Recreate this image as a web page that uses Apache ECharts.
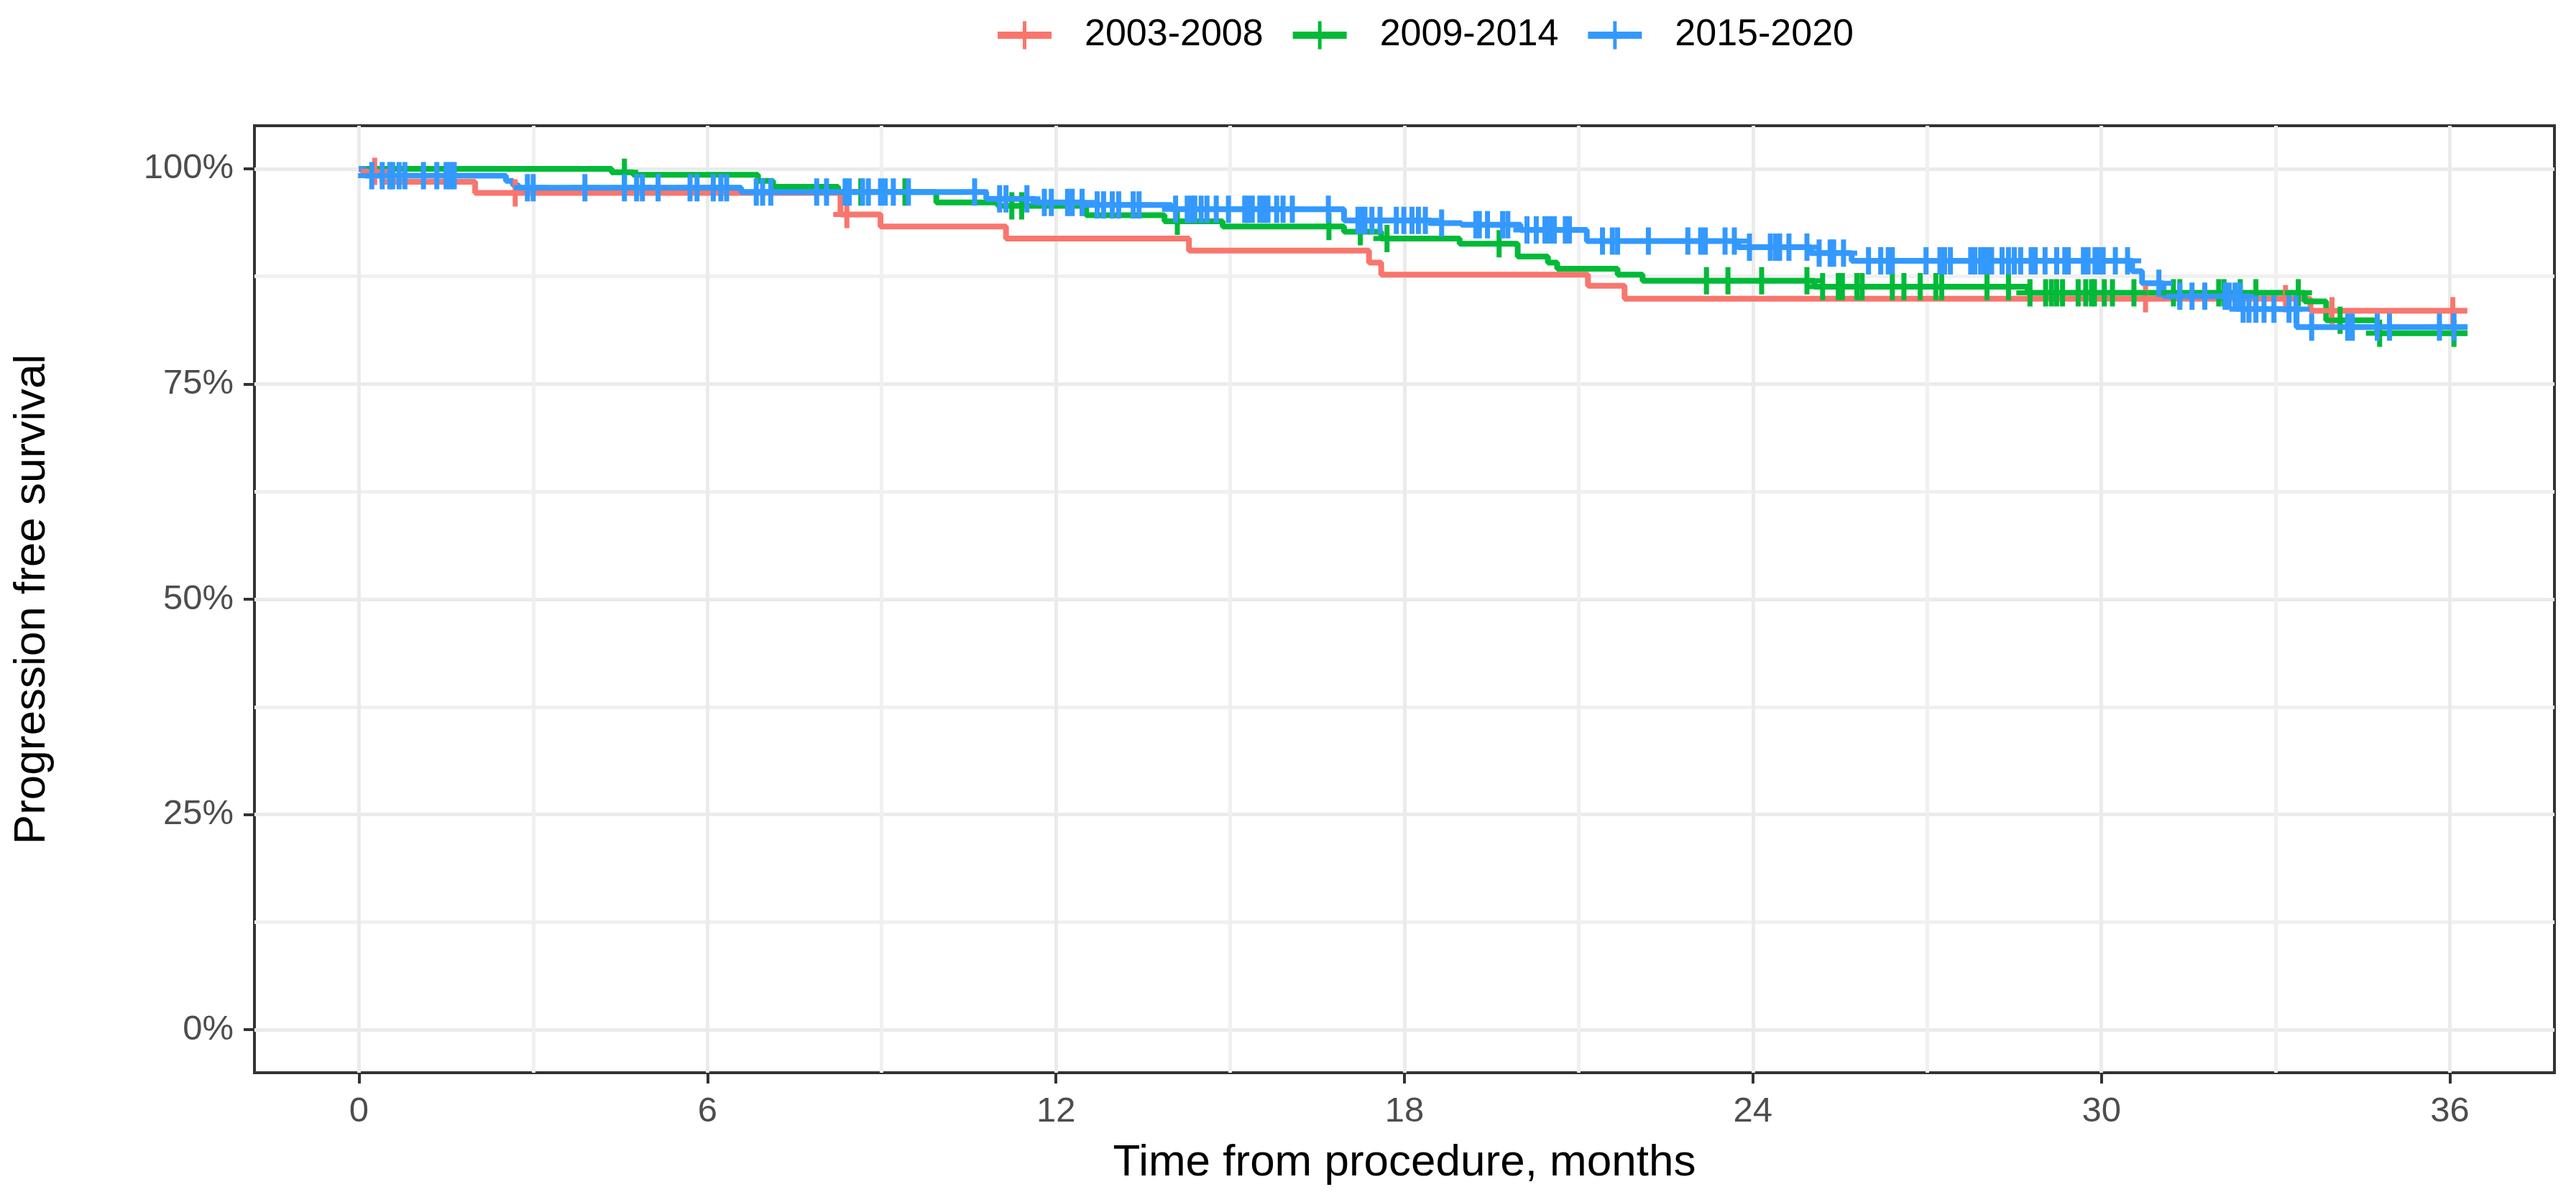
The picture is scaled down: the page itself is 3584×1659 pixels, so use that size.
<!DOCTYPE html>
<html><head><meta charset="utf-8">
<script src="https://cdn.jsdelivr.net/npm/echarts@6/dist/echarts.min.js"></script>
<style>html,body{margin:0;padding:0;background:#fff}#c{width:3584px;height:1659px}</style>
</head><body><div id="c"></div>
<script>
// ---- data ----
const seriesNames = ['2003-2008', '2009-2014', '2015-2020'];

const redTime = [0, 0.05, 0.4, 2.0, 8.29, 8.98, 11.14, 14.29, 17.39, 17.6, 21.16, 21.79, 33.6, 36.3];
const redSurv = [1.0, 0.997, 0.985, 0.972, 0.947, 0.933, 0.919, 0.905, 0.891, 0.877, 0.864, 0.849, 0.835, 0.835];
const redCensor = [0.27, 2.69, 8.4, 30.76, 33.17, 33.97, 36.05];

const greenTime = [0, 4.35, 4.72, 6.87, 7.13, 8.25, 9.94, 11.0, 12.52, 13.87, 14.87, 16.96, 17.6, 18.95, 19.95, 20.47, 20.63, 21.67, 22.1, 25.06, 28.73, 33.5, 33.87, 34.75, 36.3];
const greenSurv = [1.0, 0.996, 0.993, 0.986, 0.979, 0.973, 0.961, 0.957, 0.946, 0.939, 0.933, 0.927, 0.919, 0.913, 0.898, 0.891, 0.884, 0.877, 0.870, 0.863, 0.856, 0.846, 0.824, 0.809, 0.809];
const greenCensor = [4.57, 8.64, 9.4, 11.24, 11.41, 14.09, 16.7, 17.24, 17.7, 19.63, 23.2, 23.57, 24.15, 24.93, 25.2, 25.47, 25.54, 25.79, 25.88, 26.4, 26.6, 26.88, 27.15, 27.25, 28.03, 28.4, 28.77, 29.04, 29.14, 29.23, 29.33, 29.6, 29.73, 29.83, 29.88, 30.05, 30.19, 30.56, 31.24, 31.35, 32.02, 32.11, 32.39, 32.66, 33.39, 34.11, 34.79, 36.07];

const blueTime = [0, 0.11, 2.53, 2.65, 2.75, 6.58, 10.8, 11.64, 12.5, 13.99, 16.96, 18.45, 18.98, 20.0, 21.14, 23.75, 25.0, 25.7, 30.53, 30.7, 31.07, 32.42, 33.36, 36.3];
const blueSurv = [1.0, 0.992, 0.986, 0.981, 0.978, 0.973, 0.965, 0.961, 0.958, 0.953, 0.940, 0.937, 0.935, 0.929, 0.916, 0.909, 0.902, 0.893, 0.881, 0.867, 0.852, 0.837, 0.816, 0.816];
const blueCensor = [0.22, 0.4, 0.53, 0.58, 0.69, 0.79, 1.11, 1.34, 1.5, 1.57, 1.64, 2.9, 3.0, 3.89, 4.57, 4.78, 4.88, 5.15, 5.7, 5.82, 6.1, 6.23, 6.33, 6.84, 6.95, 7.09, 7.88, 8.05, 8.37, 8.44, 8.67, 8.77, 8.98, 9.06, 9.2, 9.46, 10.6, 11.03, 11.14, 11.5, 11.8, 11.92, 12.2, 12.28, 12.45, 12.71, 12.82, 12.97, 13.08, 13.33, 13.43, 14.06, 14.26, 14.34, 14.39, 14.5, 14.6, 14.76, 14.97, 15.25, 15.3, 15.38, 15.51, 15.58, 15.65, 15.8, 15.91, 16.07, 16.69, 17.2, 17.27, 17.32, 17.44, 17.58, 17.86, 17.99, 18.13, 18.24, 18.36, 18.64, 19.23, 19.29, 19.43, 19.69, 19.78, 20.11, 20.27, 20.42, 20.5, 20.58, 20.77, 20.84, 21.41, 21.58, 21.67, 22.2, 22.88, 23.1, 23.18, 23.52, 23.68, 23.94, 24.3, 24.39, 24.46, 24.62, 24.93, 25.14, 25.33, 25.39, 25.56, 25.99, 26.2, 26.33, 26.4, 26.98, 27.22, 27.3, 27.4, 27.75, 27.82, 27.92, 27.99, 28.06, 28.11, 28.29, 28.4, 28.5, 28.61, 28.79, 28.86, 29.03, 29.23, 29.37, 29.43, 29.69, 29.77, 29.89, 29.96, 30.03, 30.24, 30.45, 30.99, 31.35, 31.56, 31.78, 32.13, 32.2, 32.3, 32.39, 32.44, 32.54, 32.66, 32.8, 32.97, 33.23, 33.35, 33.62, 34.24, 34.32, 34.75, 34.96, 35.82, 36.07];

const xMajorTicks = [0, 6, 12, 18, 24, 30, 36];
const xMinorTicks = [3, 9, 15, 21, 27, 33];
const yMajorTicks = [0, 0.25, 0.5, 0.75, 1];
const yMinorTicks = [0.125, 0.375, 0.625, 0.875];

// ---- helpers ----
const colors = ['#F8766D', '#00BA38', '#3399FF'];
const FONT = '"Liberation Sans", Arial, Helvetica, sans-serif';
function survAt(times, surv, t) {
  let s = surv[0];
  for (let i = 0; i < times.length; i++) { if (times[i] <= t) s = surv[i]; else break; }
  return s;
}
function stepData(times, surv) { return times.map((t, i) => [t, surv[i]]); }
function censorData(times, surv, cens) { return cens.map(t => [t, survAt(times, surv, t)]); }

const groups = [
  [redTime, redSurv, redCensor],
  [greenTime, greenSurv, greenCensor],
  [blueTime, blueSurv, blueCensor]
];

const plusPath = 'path://M15.5,0H22.5V38H15.5Z M0,15.5H38V22.5H0Z';
const legendIcon = 'path://M0,14.5H75V24.5H0Z M35,0H40V39H35Z';

const series = [];
groups.forEach((g, i) => {
  series.push({
    name: seriesNames[i], type: 'line', step: 'end',
    xAxisIndex: 0, yAxisIndex: 0,
    data: stepData(g[0], g[1]),
    showSymbol: false, symbol: 'none',
    lineStyle: { color: colors[i], width: 8 },
    itemStyle: { color: colors[i] },
    z: 3 + i, animation: false
  });
});
groups.forEach((g, i) => {
  series.push({
    name: seriesNames[i], type: 'scatter',
    xAxisIndex: 0, yAxisIndex: 0,
    data: censorData(g[0], g[1], g[2]),
    symbol: plusPath, symbolSize: [38, 38],
    itemStyle: { color: colors[i], opacity: 1 },
    z: 6 + i, animation: false, silent: true
  });
});

const axisTickStyle = { color: '#333333', width: 4 };
const option = {
  animation: false,
  backgroundColor: '#ffffff',
  textStyle: { fontFamily: FONT },
  legend: {
    top: 18, left: 1383,
    itemWidth: 75, itemHeight: 39, itemGap: 41,
    symbolKeepAspect: false,
    selectedMode: false,
    textStyle: { fontSize: 52, color: '#000000', fontFamily: FONT, padding: [0, 0, 0, 41] },
    data: seriesNames.map(n => ({ name: n, icon: legendIcon }))
  },
  grid: {
    left: 354, right: 30, top: 175, bottom: 166,
    show: true, borderColor: '#333333', borderWidth: 4, backgroundColor: '#ffffff',
    containLabel: false
  },
  xAxis: [{
    type: 'value', min: -1.8, max: 37.8, position: 'bottom',
    name: 'Time from procedure, months', nameLocation: 'middle', nameGap: 95,
    nameTextStyle: { fontSize: 62, color: '#000000', fontFamily: FONT },
    axisLine: { show: false, onZero: false },
    axisTick: { show: true, length: 15, customValues: xMajorTicks, lineStyle: axisTickStyle },
    axisLabel: { customValues: xMajorTicks, fontSize: 49, color: '#4D4D4D', margin: 30, fontFamily: FONT },
    splitLine: { show: true, lineStyle: { color: '#EBEBEB', width: 5 } }
  }, {
    type: 'value', min: -1.8, max: 37.8, position: 'bottom',
    axisLine: { show: false, onZero: false },
    axisTick: { show: false, customValues: xMinorTicks },
    axisLabel: { show: false, customValues: xMinorTicks },
    splitLine: { show: true, lineStyle: { color: '#F0F0F0', width: 5 } }
  }],
  yAxis: [{
    type: 'value', min: -0.05, max: 1.05, position: 'left',
    name: 'Progression free survival', nameLocation: 'middle', nameGap: 278,
    nameTextStyle: { fontSize: 62, color: '#000000', fontFamily: FONT },
    axisLine: { show: false, onZero: false },
    axisTick: { show: true, length: 15, customValues: yMajorTicks, lineStyle: axisTickStyle },
    axisLabel: { customValues: yMajorTicks, fontSize: 49, color: '#4D4D4D', margin: 29, fontFamily: FONT,
      formatter: v => Math.round(v * 100) + '%' },
    splitLine: { show: true, lineStyle: { color: '#EBEBEB', width: 5 } }
  }, {
    type: 'value', min: -0.05, max: 1.05, position: 'left',
    axisLine: { show: false, onZero: false },
    axisTick: { show: false, customValues: yMinorTicks },
    axisLabel: { show: false, customValues: yMinorTicks },
    splitLine: { show: true, lineStyle: { color: '#F0F0F0', width: 5 } }
  }],
  series: series
};

const chart = echarts.init(document.getElementById('c'), null, { renderer: 'canvas' });
chart.setOption(option);
</script>
</body></html>
